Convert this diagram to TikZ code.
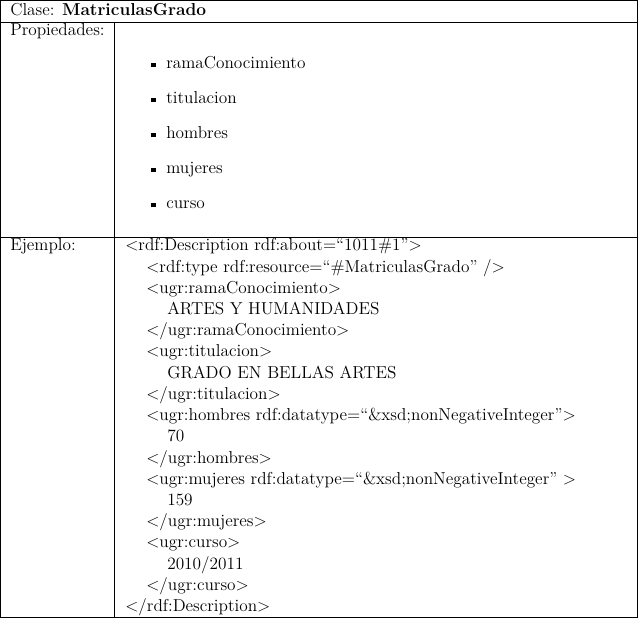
\documentclass[tikz,border=0pt]{standalone}
\usepackage{amssymb}

\tikzset{
  cell/.style={anchor=base west, inner sep=0pt, font=\fontsize{12}{14.5}\selectfont},
  sq/.style={anchor=base west, inner sep=0pt},
  rulings/.style={line width=0.6pt}
}

\begin{document}
\begin{tikzpicture}[x=0.6944pt,y=-0.6944pt]
\useasboundingbox (0,0) rectangle (638,618);

% table lines
\draw[rulings] (0.5,0.5) rectangle (637.5,617.5);
\draw[rulings] (0,22.5) -- (638,22.5);
\draw[rulings] (0,237) -- (638,237);
\draw[rulings] (114.5,22.5) -- (114.5,618);

% header and left column
\node[cell] (clase) at (10,16) {Clase: \textbf{MatriculasGrado}};
\node[cell] (prop) at (10,36) {Propiedades:};
\node[cell] (ejem) at (10,251) {Ejemplo:};

% properties
\node[sq] (b1) at (151,69) {\rule[1.2pt]{3pt}{3pt}};
\node[sq] (b2) at (151,104) {\rule[1.2pt]{3pt}{3pt}};
\node[sq] (b3) at (151,139) {\rule[1.2pt]{3pt}{3pt}};
\node[sq] (b4) at (151,174) {\rule[1.2pt]{3pt}{3pt}};
\node[sq] (b5) at (151,209) {\rule[1.2pt]{3pt}{3pt}};
\node[cell] (p1) at (166,69) {ramaConocimiento};
\node[cell] (p2) at (166,104) {titulacion};
\node[cell] (p3) at (166,139) {hombres};
\node[cell] (p4) at (166,174) {mujeres};
\node[cell] (p5) at (166,209) {curso};

% example
\node[cell] (e1) at (125,251) {$<$rdf:Description rdf:about=``1011\#1''$>$};
\node[cell] (e2) at (146,272.2) {$<$rdf:type rdf:resource=``\#MatriculasGrado'' /$>$};
\node[cell] (e3) at (146,293.4) {$<$ugr:ramaConocimiento$>$};
\node[cell] (e4) at (167,314.6) {ARTES Y HUMANIDADES};
\node[cell] (e5) at (146,335.8) {$<$/ugr:ramaConocimiento$>$};
\node[cell] (e6) at (146,357.0) {$<$ugr:titulacion$>$};
\node[cell] (e7) at (167,378.2) {GRADO EN BELLAS ARTES};
\node[cell] (e8) at (146,399.4) {$<$/ugr:titulacion$>$};
\node[cell] (e9) at (146,420.6) {$<$ugr:hombres rdf:datatype=``\&xsd;nonNegativeInteger''$>$};
\node[cell] (e10) at (167,441.8) {70};
\node[cell] (e11) at (146,463.0) {$<$/ugr:hombres$>$};
\node[cell] (e12) at (146,484.2) {$<$ugr:mujeres rdf:datatype=``\&xsd;nonNegativeInteger'' $>$};
\node[cell] (e13) at (167,505.4) {159};
\node[cell] (e14) at (146,526.6) {$<$/ugr:mujeres$>$};
\node[cell] (e15) at (146,547.8) {$<$ugr:curso$>$};
\node[cell] (e16) at (167,569.0) {2010/2011};
\node[cell] (e17) at (146,590.2) {$<$/ugr:curso$>$};
\node[cell] (e18) at (125,611.4) {$<$/rdf:Description$>$};
\end{tikzpicture}
\end{document}
